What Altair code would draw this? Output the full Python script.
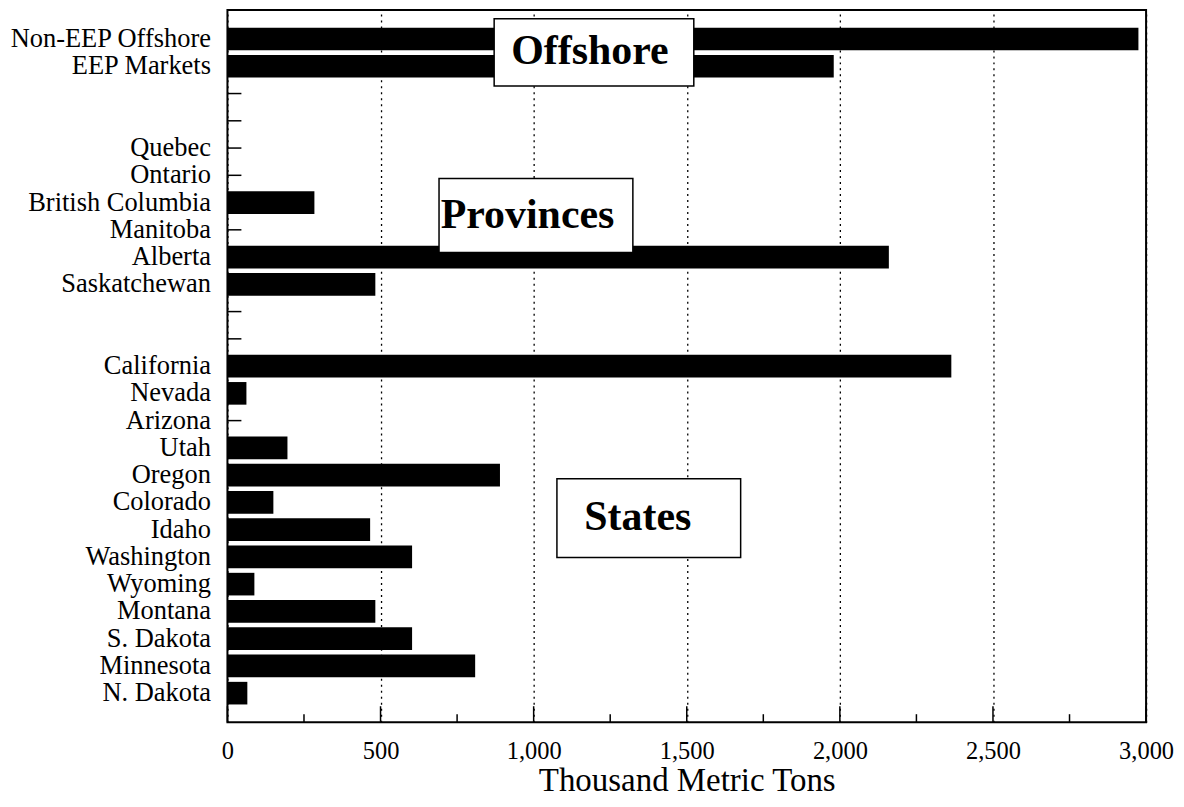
import altair as alt
import pandas as pd

# ---- data ----
categories = ["Non-EEP Offshore", "EEP Markets", " ", "  ",
              "Quebec", "Ontario", "British Columbia", "Manitoba", "Alberta", "Saskatchewan",
              "   ", "    ",
              "California", "Nevada", "Arizona", "Utah", "Oregon", "Colorado", "Idaho",
              "Washington", "Wyoming", "Montana", "S. Dakota", "Minnesota", "N. Dakota"]
values = [2975, 1980, None, None,
          0, 0, 284, 0, 2160, 483,
          None, None,
          2364, 62, 0, 196, 890, 150, 466,
          603, 88, 483, 603, 809, 65]

x_major = [0, 500, 1000, 1500, 2000, 2500, 3000]
x_minor = [250, 750, 1250, 1750, 2250, 2750]

ann_text = ["Offshore", "Provinces", "States"]
ann_x = [1184, 980, 1340]
ann_row = [0.45, 6.47, 17.55]
box_x0 = [871, 691, 1076]
box_x1 = [1523, 1324, 1676]
box_r0 = [-0.74, 5.12, 16.14]
box_r1 = [1.72, 7.83, 19.03]

FONT = "Liberation Serif"
W, H = 921, 714

bars_df = pd.DataFrame({"cat": categories, "val": values}).dropna()
cat_df = pd.DataFrame({"cat": categories})
major_df = pd.DataFrame({"v": x_major})
minor_df = pd.DataFrame({"v": x_minor})
ann_df = pd.DataFrame({"t": ann_text, "x": ann_x, "r": ann_row})
box_df = pd.DataFrame({"x0": box_x0, "x1": box_x1, "r0": box_r0, "r1": box_r1})

xscale = alt.Scale(domain=[0, 3000], nice=False, zero=True)
yscale = alt.Scale(domain=categories, paddingInner=0.17, paddingOuter=0.65)

xaxis = alt.Axis(values=x_major, format=",d", labelFont=FONT, labelFontSize=24.5,
                 labelColor="black", labelPadding=17, labelFlush=False, labelOverlap=False,
                 tickSize=0, domain=False, grid=True, gridDash=[2, 4], gridColor="black",
                 gridOpacity=1, gridWidth=1.3,
                 title="Thousand Metric Tons", titleFont=FONT, titleFontSize=33,
                 titleFontWeight="normal", titleColor="black",
                 titleBaseline="alphabetic", titleY=68)
yaxis = alt.Axis(labelFont=FONT, labelFontSize=26.5, labelColor="black", labelPadding=17,
                 labelLimit=0, tickSize=0, domain=False, grid=False, title=None,
                 labelOverlap=False)

bars = alt.Chart(bars_df).mark_bar(color="black").encode(
    x=alt.X("val:Q", scale=xscale, axis=xaxis),
    y=alt.Y("cat:N", sort=categories, scale=yscale, axis=yaxis),
)

yticks = alt.Chart(cat_df).mark_rule(color="black", strokeWidth=1.5).encode(
    y=alt.Y("cat:N", sort=categories, scale=yscale, axis=yaxis),
    x=alt.value(0), x2=alt.value(14),
)

majticks = alt.Chart(major_df).mark_rule(color="black", strokeWidth=1.5).encode(
    x=alt.X("v:Q", scale=xscale, axis=xaxis),
    y=alt.value(H), y2=alt.value(H - 16),
)
minticks = alt.Chart(minor_df).mark_rule(color="black", strokeWidth=1.5).encode(
    x=alt.X("v:Q", scale=xscale, axis=xaxis),
    y=alt.value(H), y2=alt.value(H - 8),
)

main = alt.layer(bars, yticks, majticks, minticks)

rscale = alt.Scale(domain=[-1.065, 25.07], reverse=True, nice=False, zero=False)

boxes = alt.Chart(box_df).mark_rect(fill="white", stroke="black", strokeWidth=1.5).encode(
    x=alt.X("x0:Q", scale=xscale), x2="x1:Q",
    y=alt.Y("r0:Q", scale=rscale, axis=None), y2="r1:Q",
)
labels = alt.Chart(ann_df).mark_text(font=FONT, fontSize=42, fontWeight="bold",
                                     color="black", baseline="middle", align="center").encode(
    x=alt.X("x:Q", scale=xscale),
    y=alt.Y("r:Q", scale=rscale, axis=None),
    text="t:N",
)
ann = alt.layer(boxes, labels)

chart = alt.layer(main, ann).resolve_scale(y="independent").properties(
    width=W, height=H,
    autosize=alt.AutoSizeParams(type="none"),
    padding={"left": 220, "top": 1, "right": 30, "bottom": 76},
).configure(font=FONT, background="white").configure_view(stroke="black", strokeWidth=2)

chart.save("out.html", embed_options={"renderer": "svg", "actions": False})
